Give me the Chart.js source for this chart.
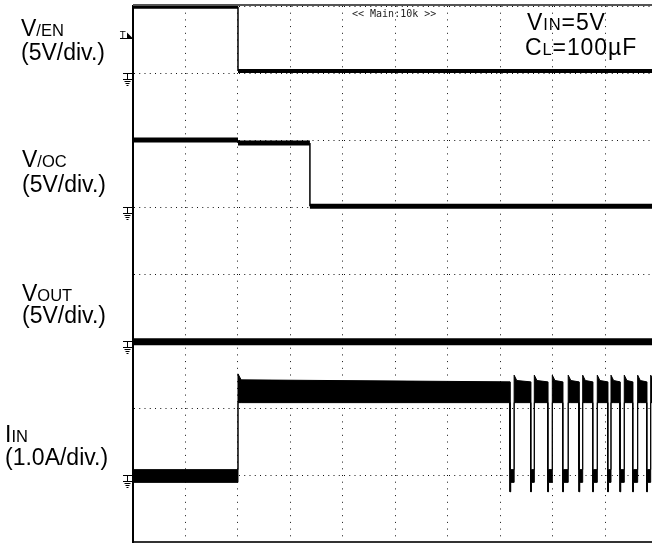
<!DOCTYPE html>
<html>
<head>
<meta charset="utf-8">
<script src="https://cdn.jsdelivr.net/npm/chart.js@4/dist/chart.umd.min.js"></script>
<style>
  body { margin: 0; background: #fff; }
  #wrap { position: relative; width: 652px; height: 546px; }
  .lbl { position: absolute; font-family: "Liberation Sans", Arial, sans-serif; font-size: 23px; line-height: 23px; color: #000; white-space: nowrap; }
  .lbl small { font-size: 16.5px; line-height: 16px; }
  .wide { letter-spacing: 0.9px; }
  .scope { position: absolute; font-family: "DejaVu Sans Mono", monospace; font-size: 10px; line-height: 10px; color: #222; white-space: pre; }
</style>
</head>
<body>
<div id="wrap">
  <canvas id="scopeChart"></canvas>
  <div class="lbl" style="left:21px; top:16.5px">V<small>/EN</small></div>
  <div class="lbl" style="left:21px; top:40.5px">(5V/div.)</div>
  <div class="lbl" style="left:22px; top:147.5px">V<small>/OC</small></div>
  <div class="lbl" style="left:22px; top:172.5px">(5V/div.)</div>
  <div class="lbl" style="left:22px; top:281.5px">V<small>OUT</small></div>
  <div class="lbl" style="left:22px; top:304px">(5V/div.)</div>
  <div class="lbl" style="left:5px; top:422.5px">I<small>IN</small></div>
  <div class="lbl" style="left:5px; top:445.5px">(1.0A/div.)</div>
  <div class="lbl wide" style="left:527px; top:10.5px">V<small>IN</small>=5V</div>
  <div class="lbl wide" style="left:525px; top:35.5px">C<small>L</small>=100µF</div>
  <div class="scope" style="left:352px; top:9px">&lt;&lt; Main:10k &gt;&gt;</div>
</div>
<script>
// all positions in screen divisions: 10 across, 8 down (0 = bottom)
var xDivs = [0, 1, 2, 3, 4, 5, 6, 7, 8, 9];
var yDivs = [0, 1, 2, 3, 4, 5, 6, 7, 8];
var xMax = 9.886; // picture is cut just before the right edge
var groundLevels = [7, 5, 3, 1]; // GND marks of V/EN, V/OC, VOUT, IIN
var triggerLevel = 7.52;

// V/EN
var venTime = [0, 2.0, 2.0, 10];
var venLevel = [7.99, 7.99, 7.03, 7.03];

// V/OC
var vocTime = [0, 2.0, 2.0, 3.37, 3.37, 10];
var vocLevel = [6.0, 6.0, 5.955, 5.955, 5.01, 5.01];

// VOUT
var voutTime = [0, 10];
var voutLevel = [2.99, 2.99];

// IIN (noisy band, drawn as top and bottom edge)
var iinTime = [0, 2.0, 2.0, 2.06];
var iinTop = [1.08, 1.08, 2.51, 2.42];
var iinBottom = [0.89, 0.89, 2.08, 2.08];
// short drops once the switch starts cycling
var pulseDrop = [7.18, 7.575, 7.90, 8.185, 8.495, 8.756, 9.042, 9.276, 9.518, 9.785];
var pulseRise = [7.26, 7.644, 7.987, 8.29, 8.566, 8.844, 9.105, 9.358, 9.613, 9.861];
var pulseTop = [2.39, 1.08, 1.08, 1.08, 1.08, 2.49, 2.41];
var pulseBottom = [2.08, 0.75, 0.75, 0.89, 0.89, 2.08, 2.08];

pulseDrop.forEach(function (d, i) {
    var r = pulseRise[i];
    iinTime.push(d, d, d + 0.015, d + 0.015, r, r, r + 0.05);
    iinTop.push.apply(iinTop, pulseTop);
    iinBottom.push.apply(iinBottom, pulseBottom);
});
iinTime.push(10); iinTop.push(2.41); iinBottom.push(2.08);

function pts(xs, ys) {
    return xs.map(function (x, i) { return {x: x, y: ys[i]}; });
}

// thin vertical edges, thick flat parts
function edgeWidth(w) {
    return function (c) { return c.p0.parsed.x === c.p1.parsed.x ? 1.5 : w; };
}

var scopeMarks = {
    id: 'scopeMarks',
    afterDraw: function (chart) {
        var ctx = chart.ctx, a = chart.chartArea, y = chart.scales.y;
        ctx.save();
        // top frame
        ctx.strokeStyle = '#555';
        ctx.lineWidth = 2;
        ctx.beginPath();
        ctx.moveTo(a.left, a.top - 1);
        ctx.lineTo(a.right, a.top - 1);
        ctx.stroke();
        // ground marks
        ctx.strokeStyle = '#000';
        ctx.lineWidth = 1;
        groundLevels.forEach(function (g) {
            var py = Math.round(y.getPixelForValue(g)) + 0.5;
            var px = a.left - 5.5;
            ctx.beginPath();
            ctx.moveTo(a.left - 10, py); ctx.lineTo(a.left - 1, py);
            ctx.moveTo(px, py); ctx.lineTo(px, py + 6);
            ctx.moveTo(a.left - 10, py + 6); ctx.lineTo(a.left - 1, py + 6);
            ctx.moveTo(px - 3, py + 8); ctx.lineTo(px + 3, py + 8);
            ctx.moveTo(px - 2, py + 10); ctx.lineTo(px + 2, py + 10);
            ctx.moveTo(px - 1, py + 12); ctx.lineTo(px + 1, py + 12);
            ctx.stroke();
        });
        // trigger level mark
        var ty = Math.round(y.getPixelForValue(triggerLevel)) + 0.5;
        ctx.fillStyle = '#000';
        ctx.font = '9px "DejaVu Sans"';
        ctx.textBaseline = 'alphabetic';
        ctx.fillText('T', a.left - 13, ty - 1);
        ctx.beginPath();
        ctx.moveTo(a.left - 13, ty); ctx.lineTo(a.left - 1, ty);
        ctx.stroke();
        ctx.beginPath();
        ctx.moveTo(a.left - 6, ty - 6);
        ctx.lineTo(a.left, ty);
        ctx.lineTo(a.left - 6, ty);
        ctx.closePath();
        ctx.fill();
        ctx.restore();
    }
};

var ctx = document.getElementById('scopeChart').getContext('2d');
var scopeChart = new Chart(ctx, {
    type: 'line',
    data: {
        datasets: [{
            label: 'V/EN',
            data: pts(venTime, venLevel),
            borderColor: '#000',
            borderWidth: 4,
            segment: { borderWidth: edgeWidth(4) }
        }, {
            label: 'V/OC',
            data: pts(vocTime, vocLevel),
            borderColor: '#000',
            borderWidth: 5,
            segment: { borderWidth: edgeWidth(5) }
        }, {
            label: 'VOUT',
            data: pts(voutTime, voutLevel),
            borderColor: '#000',
            borderWidth: 7
        }, {
            label: 'IIN top',
            data: pts(iinTime, iinTop),
            borderColor: '#000',
            backgroundColor: '#000',
            borderWidth: 1,
            fill: '+1'
        }, {
            label: 'IIN bottom',
            data: pts(iinTime, iinBottom),
            borderColor: '#000',
            borderWidth: 1,
            fill: false
        }]
    },
    options: {
        responsive: true,
        maintainAspectRatio: false,
        animation: false,
        layout: { padding: { left: 133, top: 6, right: 0, bottom: 4 } },
        elements: { point: { radius: 0 }, line: { tension: 0 } },
        plugins: { legend: { display: false }, tooltip: { enabled: false } },
        scales: {
            x: {
                type: 'linear',
                min: 0,
                max: xMax,
                afterBuildTicks: function (axis) {
                    axis.ticks = xDivs.map(function (v) { return {value: v}; });
                },
                ticks: { display: false },
                grid: { color: '#111', lineWidth: 1, drawTicks: false },
                border: { color: '#333', width: 2, dash: [1, 5.7] }
            },
            y: {
                min: 0,
                max: 8,
                afterBuildTicks: function (axis) {
                    axis.ticks = yDivs.map(function (v) { return {value: v}; });
                },
                ticks: { display: false },
                grid: { color: '#111', lineWidth: 1, drawTicks: false },
                border: { color: '#000', width: 2, dash: [1, 4.25] }
            }
        }
    },
    plugins: [scopeMarks]
});
</script>
</body>
</html>
